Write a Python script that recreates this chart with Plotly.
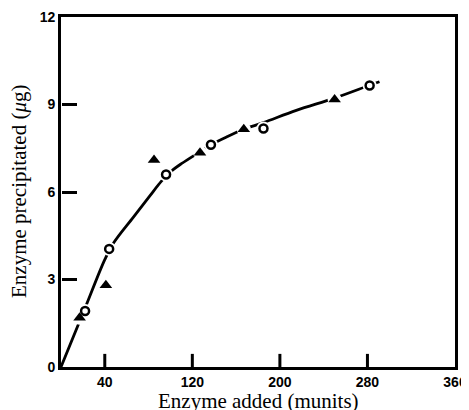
import plotly.graph_objects as go

# Open circles
circ_x = [22, 44, 96, 137, 185, 282]
circ_y = [1.92, 4.05, 6.6, 7.62, 8.18, 9.65]
# Filled triangles
tri_x = [17, 41, 85, 127, 167, 250]
tri_y = [1.69, 2.8, 7.1, 7.35, 8.15, 9.17]
# Fitted curve
curve_x = [0, 22, 40, 48, 66, 81, 92, 100, 110, 127, 137, 152, 167, 185, 215, 250, 282, 291]
curve_y = [0, 2.02, 3.68, 4.25, 5.13, 5.86, 6.38, 6.69, 6.97, 7.38, 7.62, 7.9, 8.15, 8.38,
           8.8, 9.22, 9.66, 9.78]

x_ticks = [40, 120, 200, 280, 360]
y_ticks = [0, 3, 6, 9, 12]

fig = go.Figure()
fig.add_trace(go.Scatter(x=curve_x, y=curve_y, mode="lines",
                         line=dict(color="black", width=2.8, shape="spline", smoothing=1.0),
                         hoverinfo="skip"))
# white halos to create gaps in the line around markers
fig.add_trace(go.Scatter(x=circ_x + tri_x, y=circ_y + tri_y, mode="markers",
                         marker=dict(color="white", size=14, line=dict(width=0)),
                         hoverinfo="skip"))
fig.add_trace(go.Scatter(x=tri_x, y=tri_y, mode="markers",
                         marker=dict(symbol="triangle-up", color="black", size=11,
                                     line=dict(width=0))))
fig.add_trace(go.Scatter(x=circ_x, y=circ_y, mode="markers",
                         marker=dict(symbol="circle", color="white", size=8,
                                     line=dict(color="black", width=2.5))))

tick_font = dict(family="Liberation Sans, Arial, sans-serif", size=14, color="black")
title_font = dict(family="Liberation Serif, Times New Roman, serif", size=21, color="black")

# inward tick marks on the bottom axis, placed through the x scale
x_tick_shapes = [dict(type="line", xref="x", x0=v, x1=v, yref="y", y0=0, y1=0.45,
                      line=dict(color="rgb(0,0,0)", width=3), layer="above")
                 for v in x_ticks[:-1]]

# the page body has an 8px margin, so the figure is sized to fit the 469x410 window
fig.update_layout(
    width=461, height=402,
    margin=dict(l=53, r=14, t=9, b=43),
    paper_bgcolor="white", plot_bgcolor="white",
    showlegend=False,
    shapes=x_tick_shapes,
    xaxis=dict(range=[0, 360], tickmode="array", tickvals=x_ticks,
               ticktext=[f"<b>{v}</b>" for v in x_ticks],
               showline=True, linecolor="black", linewidth=2.8, mirror=True,
               ticks="", showgrid=False, zeroline=False, automargin=False,
               tickfont=tick_font),
    yaxis=dict(range=[0, 12], tickmode="array", tickvals=y_ticks,
               ticktext=[f"<b>{v}</b>" for v in y_ticks],
               showline=True, linecolor="black", linewidth=2.8, mirror=True,
               ticks="", showgrid=False, zeroline=False, automargin=False,
               tickfont=tick_font),
    # tick-only y axis whose outward ticks point into the plot
    yaxis2=dict(range=[0, 12], overlaying="y", side="right", anchor="free", position=0,
                tickmode="array", tickvals=y_ticks[1:-1], ticks="outside", ticklen=15,
                tickwidth=2.8, tickcolor="black", showticklabels=False, showline=False,
                showgrid=False, zeroline=False),
    annotations=[
        dict(text="Enzyme added (munits)", x=0.5, y=0, xref="paper", yref="paper",
             xanchor="center", yanchor="top", yshift=-20, showarrow=False, font=title_font),
        dict(text="Enzyme precipitated (<i>μ</i>g)", x=0, y=0.5, xref="paper", yref="paper",
             xanchor="right", yanchor="middle", xshift=-28, textangle=-90,
             showarrow=False, font=title_font),
    ],
)
# invisible anchor trace so the tick-only y axis is drawn
fig.add_trace(go.Scatter(x=[None], y=[None], xaxis="x", yaxis="y2", mode="markers",
                         hoverinfo="skip"))

fig.write_html("out.html")
